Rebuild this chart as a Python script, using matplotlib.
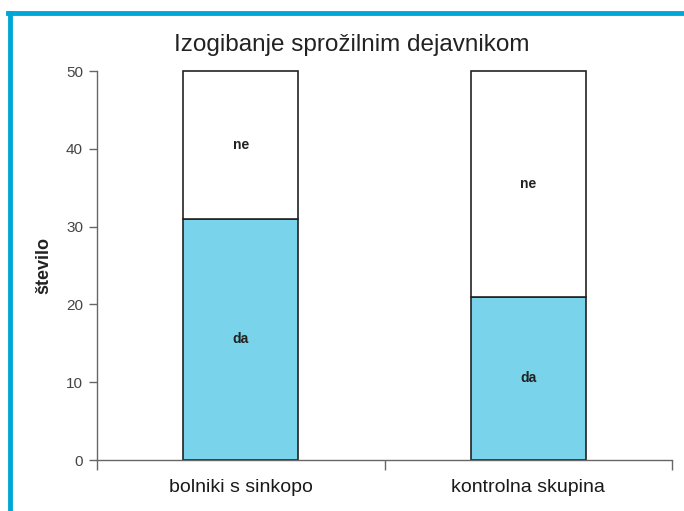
import matplotlib.pyplot as plt
from matplotlib.lines import Line2D

plt.rcParams["font.family"] = ["Liberation Sans Narrow", "Liberation Sans", "DejaVu Sans"]

groups = ["bolniki s sinkopo", "kontrolna skupina"]
da = [31, 21]
ne = [19, 29]
yticks = [0, 10, 20, 30, 40, 50]

BLUE = "#79d3ea"
FRAME = "#00a6d6"
AXIS = "#666666"

fig = plt.figure(figsize=(6.84, 5.11), dpi=100)
ax = fig.add_axes([97 / 684, 1 - 460 / 511, 575 / 684, 389 / 511])

pos = [0.5, 1.5]
ax.bar(pos, da, width=0.4, color=BLUE, edgecolor="#222222", linewidth=1.2, clip_on=False)
ax.bar(pos, ne, width=0.4, bottom=da, color="white", edgecolor="#222222",
       linewidth=1.2, clip_on=False)

for x, d, n in zip(pos, da, ne):
    ax.text(x, d / 2, "da", ha="center", va="center", fontsize=10, fontweight="bold",
            color="#222222")
    ax.text(x, d + n / 2, "ne", ha="center", va="center", fontsize=10, fontweight="bold",
            color="#222222")

ax.set_xlim(0, 2)
ax.set_ylim(0, 50)
ax.set_yticks(yticks)
ax.set_xticks([0, 1, 2])
ax.set_xticklabels([])
ax.set_xticks(pos, minor=True)
ax.set_xticklabels(groups, minor=True, fontsize=14, color="#1a1a1a")
ax.tick_params(axis="x", which="minor", length=0, pad=14)
ax.tick_params(axis="x", which="major", length=7, color=AXIS, width=1)
ax.tick_params(axis="y", length=6, color=AXIS, width=1, labelsize=11,
               labelcolor="#444444", pad=4)

for s in ["top", "right"]:
    ax.spines[s].set_visible(False)
for s in ["left", "bottom"]:
    ax.spines[s].set_color(AXIS)
    ax.spines[s].set_linewidth(1)

ax.set_ylabel("število", fontsize=13, fontweight="bold", color="#222222", labelpad=10)

fig.text(352 / 684, 1 - 45 / 511, "Izogibanje sprožilnim dejavnikom", ha="center",
         va="center", fontsize=17.5, color="#222222")

# blue frame on the left and top
fig.add_artist(Line2D([9.5 / 684, 9.5 / 684], [0, 1 - 13.5 / 511], color=FRAME,
                      linewidth=3.5, transform=fig.transFigure))
fig.add_artist(Line2D([7.5 / 684, 1], [1 - 13.5 / 511, 1 - 13.5 / 511], color=FRAME,
                      linewidth=3.5, transform=fig.transFigure))

fig.savefig("out.png", dpi=100)
